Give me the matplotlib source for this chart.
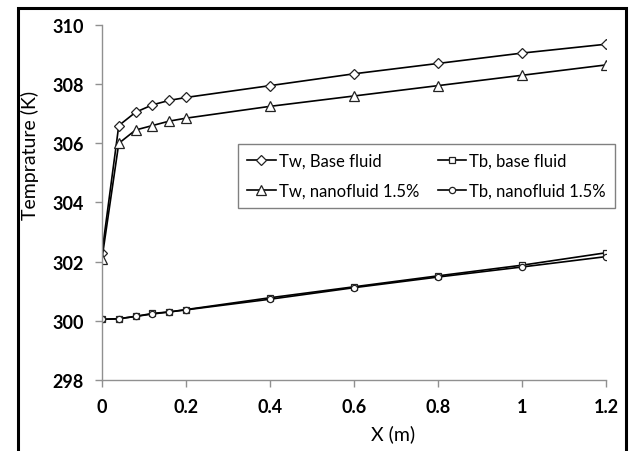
import matplotlib
matplotlib.use('Agg')
import matplotlib.pyplot as plt
from matplotlib.patches import Rectangle

#   the data
x_pos = [0, 0.04, 0.08, 0.12, 0.16, 0.2, 0.4, 0.6, 0.8, 1.0, 1.2]
tw_base = [302.3, 306.6, 307.05, 307.3, 307.45, 307.55, 307.95, 308.35, 308.7, 309.05, 309.35]
tb_base = [300.05, 300.07, 300.15, 300.25, 300.3, 300.38, 300.78, 301.15, 301.52, 301.88, 302.3]
tw_nano = [302.1, 306.0, 306.45, 306.6, 306.75, 306.85, 307.25, 307.6, 307.95, 308.3, 308.65]
tb_nano = [300.05, 300.07, 300.15, 300.23, 300.3, 300.37, 300.73, 301.12, 301.48, 301.82, 302.17]

x_ticks = [0, 0.2, 0.4, 0.6, 0.8, 1, 1.2]
x_tick_labels = ['0', '0.2', '0.4', '0.6', '0.8', '1', '1.2']
y_ticks = [298, 300, 302, 304, 306, 308, 310]

plt.rcParams['font.family'] = ['Lato', 'DejaVu Sans']

fig = plt.figure(figsize=(6.33, 4.52), dpi=100)
ax = fig.add_axes([0.1611, 0.1571, 0.7962, 0.7854])

#   black frame round the figure (bottom edge is cut off)
fig.patches.append(Rectangle((18 / 633, -0.1), (626 - 18) / 633, 1.1 - 9 / 452,
                             transform=fig.transFigure, fill=False,
                             edgecolor='black', linewidth=2.2))

common = dict(color='black', linewidth=1.2, markerfacecolor='white',
              markeredgecolor='#222222', markeredgewidth=0.9)
l_twb, = ax.plot(x_pos, tw_base, marker='D', markersize=5.5, label='Tw, Base fluid', **common)
l_tbb, = ax.plot(x_pos, tb_base, marker='s', markersize=4.5, label='Tb, base fluid', **common)
l_twn, = ax.plot(x_pos, tw_nano, marker='^', markersize=7, label='Tw, nanofluid 1.5%', **common)
l_tbn, = ax.plot(x_pos, tb_nano, marker='o', markersize=4.5, label='Tb, nanofluid 1.5%', **common)

ax.set_xlim(0, 1.2)
ax.set_ylim(298, 310)
ax.set_xticks(x_ticks)
ax.set_xticklabels(x_tick_labels)
ax.set_yticks(y_ticks)

for side in ['top', 'right']:
    ax.spines[side].set_visible(False)
for side in ['left', 'bottom']:
    ax.spines[side].set_color('#909090')
    ax.spines[side].set_linewidth(1.0)
ax.tick_params(direction='out', length=5, width=1.0, color='#909090',
               labelsize=13, pad=8)
for lbl in ax.get_xticklabels() + ax.get_yticklabels():
    lbl.set_fontweight('bold')

ax.set_ylabel('Temprature (K)', fontsize=14)
ax.yaxis.set_label_coords(-0.124, 0.635)
ax.set_xlabel('X (m)', fontsize=14)
ax.xaxis.set_label_coords(0.577, -0.125)

#   legend filled column by column, so order it to read row by row
handles = [l_twb, l_twn, l_tbb, l_tbn]
leg = ax.legend(handles=handles, ncol=2, loc='upper left', bbox_to_anchor=(0.27, 0.665),
                fontsize=12, frameon=True, fancybox=False, framealpha=1,
                edgecolor='#808080', handlelength=1.7, handletextpad=0.2,
                columnspacing=1.1, borderpad=0.55, labelspacing=0.8,
                borderaxespad=0)
leg.get_frame().set_linewidth(1.0)

fig.savefig('out.png', dpi=100)
